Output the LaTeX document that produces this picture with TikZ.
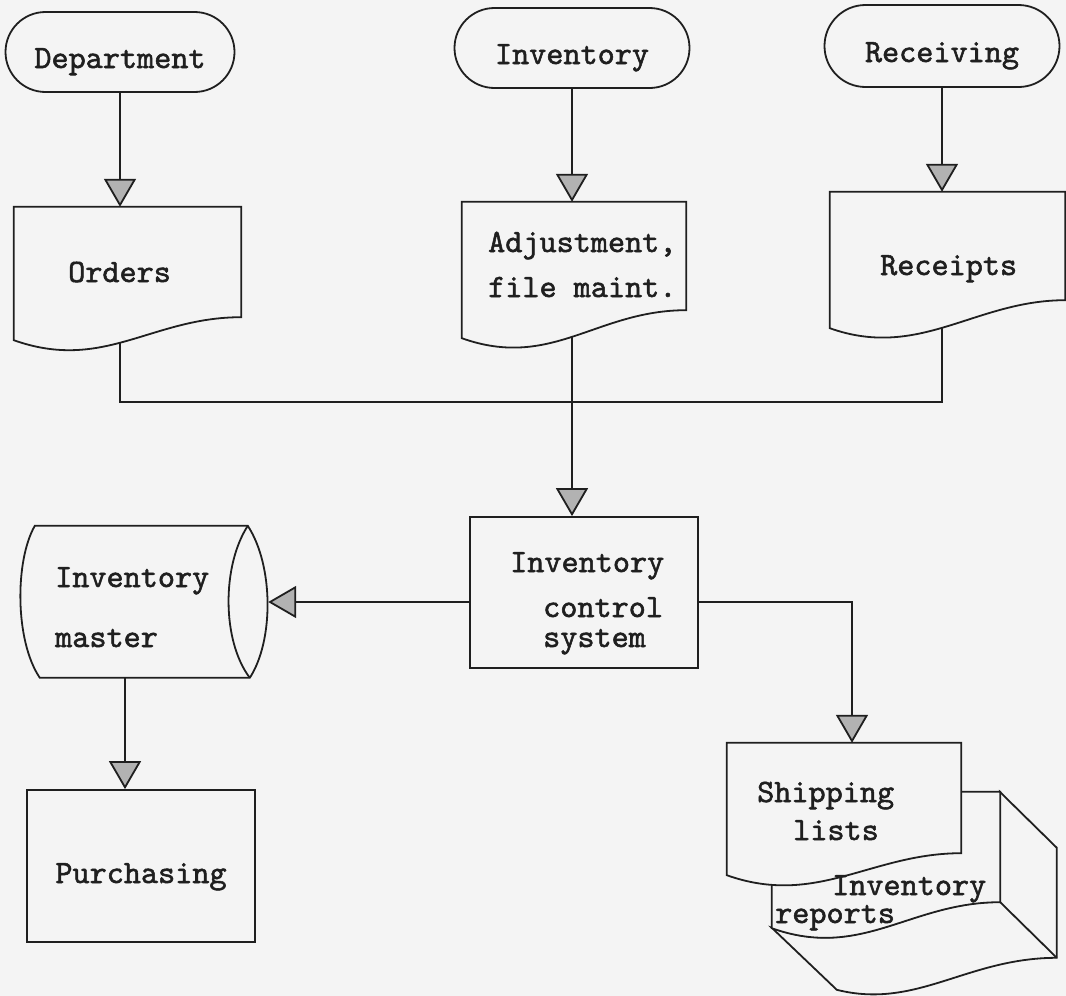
\documentclass[tikz,border=0pt]{standalone}
\usepackage{fontspec}
\newfontfamily\typeface{lmmono10-regular.otf}[FakeBold=1.6]
\usetikzlibrary{shapes.misc,arrows.meta}
\pgfdeclarelayer{links}
\pgfsetlayers{links,main}
\definecolor{paper}{gray}{0.955}
\definecolor{ink}{gray}{0.12}
\newcommand\bodyfont{\typeface\fontsize{32.6}{38}\selectfont}
% document symbol with a wavy lower edge, drawn round an anchor node
\newcommand\docform[2]{%
  \draw[form] (#1.north west) -- (#1.north east) -- ([yshift=#2pt]#1.south east)
    .. controls +(-90,0) and +(90,32) .. (#1.south west) -- cycle;}
\begin{document}
\begin{tikzpicture}[x=1pt,y=-1pt,
  every node/.style={font=\bodyfont, text=ink},
  line/.style={draw=ink, line width=1.8pt, line join=miter},
  flow/.style={line, -{Triangle[width=32pt,length=28pt,fill=gray!60]}},
  form/.style={line, fill=paper},
  term/.style={rounded rectangle, form, minimum height=80pt, inner sep=0pt,
    text height=32pt, text depth=0pt},
  proc/.style={rectangle, form, inner sep=0pt, text height=32pt, text depth=0pt},
  docbox/.style={rectangle, inner sep=0pt},
  txt/.style={anchor=base west, inner sep=0pt}]
\useasboundingbox (0,0) rectangle (1066,996);

% sources
\node[term, minimum width=229pt] (dept) at (120,52) {Department};
\node[term, minimum width=235pt] (inv) at (572,48) {Inventory};
\node[term, minimum width=235pt, minimum height=82pt] (recv) at (942,46) {Receiving};

% processing and purchasing
\node[proc, minimum width=228pt, minimum height=151pt] (ics) at (584,592.5) {};
\node[proc, minimum width=228pt, minimum height=152pt, text height=34pt] (purch) at (141,866) {Purchasing};

% anchor boxes for documents and storage
\node[docbox, minimum width=227pt, minimum height=133pt] (orders) at (127.5,273.5) {};
\node[docbox, minimum width=224pt, minimum height=136pt] (adj) at (574,270) {};
\node[docbox, minimum width=235pt, minimum height=136pt] (receipts) at (947.5,260) {};
\node[docbox, minimum width=248pt, minimum height=152pt] (master) at (144,602) {};
\node[docbox, minimum width=228pt, minimum height=136pt] (reports) at (886,860) {};
\node[docbox, minimum width=234pt, minimum height=132pt] (shipping) at (844,809) {};

\coordinate (join) at (572,402);

% connectors
\begin{pgfonlayer}{links}
  \fill[paper] (0,0) rectangle (1066,996);
  \draw[flow] (dept.south) -- (dept.south |- orders.north);
  \draw[flow] (inv.south) -- (inv.south |- adj.north);
  \draw[flow] (recv.south) -- (recv.south |- receipts.north);
  \draw[line] (orders.center -| dept.south) |- (join) -| (receipts.center -| recv.south);
  \draw[flow] (adj.center -| inv.south) -- (inv.south |- ics.north);
  \draw[flow] ([yshift=-9.5pt]ics.west) -- ([yshift=-9.5pt]ics.west -| master.east);
  \draw[flow] ([yshift=-9.5pt]ics.east) -| ([xshift=8pt]shipping.north);
  \draw[flow] ([xshift=-19pt]master.south) -- ([xshift=-19pt]master.south |- purch.north);
\end{pgfonlayer}

% documents
\docform{orders}{23}
\docform{adj}{28}
\docform{receipts}{28}

% inventory master file (storage)
\begin{scope}[shift={(master.north west)}]
  \draw[form] (15,0) -- (228,0) .. controls (254,40) and (254,115) .. (230,152)
    -- (20,152) .. controls (-5,115) and (-5,35) .. (15,0) -- cycle;
  \draw[line] (228,0) .. controls (202,40) and (202,115) .. (230,152);
\end{scope}

% report stack: extruded side, front sheet, then the shipping list on top
\begin{scope}[shift={(reports.north west)}]
  \draw[form] (228,0) -- (285,56) -- (285,166) .. controls (195,166) and (145,218) .. (65,198)
    -- (0,136) .. controls (90,168) and (138,110) .. (228,110) -- cycle;
  \draw[line] (228,110) -- (285,166);
\end{scope}
\docform{reports}{26}
\docform{shipping}{22}

% texts of documents, storage and process
\node[txt] (orders-t) at (68,282) {Orders};
\node[txt] (adj-t1) at (488,252) {Adjustment,};
\node[txt] (adj-t2) at (488,297) {file maint.};
\node[txt] (receipts-t) at (880,275) {Receipts};
\node[txt] (ics-t1) at (510,572) {Inventory};
\node[txt] (ics-t2) at (543,617) {control};
\node[txt] (ics-t3) at (543,647) {system};
\node[txt] (master-t1) at (55,587) {Inventory};
\node[txt] (master-t2) at (55,647) {master};
\node[txt] (shipping-t1) at (757,802) {Shipping};
\node[txt] (shipping-t2) at (793,840) {lists};
\node[txt] (reports-t1) at (832,895) {Inventory};
\node[txt] (reports-t2) at (775,923) {reports};
\end{tikzpicture}
\end{document}
